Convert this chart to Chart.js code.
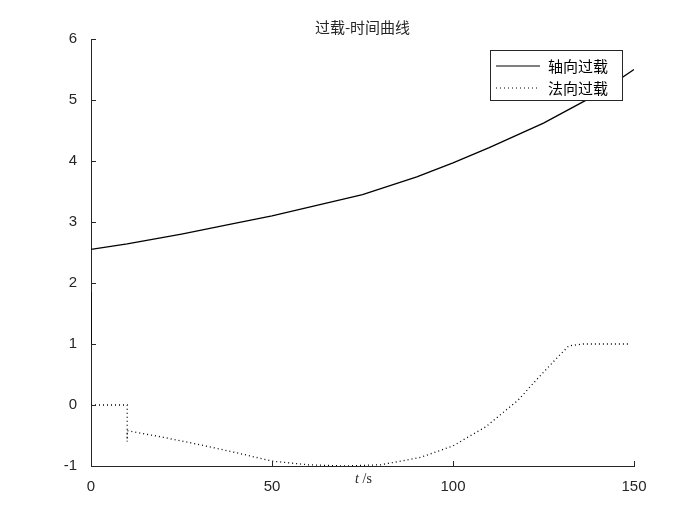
<!DOCTYPE html>
<html><head><meta charset="utf-8">
<script src="https://cdn.jsdelivr.net/npm/chart.js@4"></script>
<style>body{margin:0;background:#fff}#c{display:block}</style>
</head><body>
<canvas id="c" width="700" height="525"></canvas>
<script>
// axial overload: vertical start segment, then the main curve
var axialT = [0, 0, null, 0, 10, 25, 40, 50, 60, 75, 90, 100, 110, 125, 140, 150];
var axialN = [1, 1.85, null, 2.55, 2.64, 2.8, 2.98, 3.1, 3.24, 3.45, 3.74, 3.97, 4.22, 4.62, 5.1, 5.5];
var normalT = [0, 10, 10, 10, 20, 30, 40, 50, 60, 70, 80, 91, 100, 109, 118, 123, 129, 132, 136, 149];
var normalN = [0, 0, -0.6, -0.42, -0.53, -0.65, -0.78, -0.92, -0.98, -1.0, -0.98, -0.86, -0.67, -0.36, 0.08, 0.41, 0.79, 0.97, 1.0, 1.0];
var xTicks = [0, 50, 100, 150];
var yTicks = [-1, 0, 1, 2, 3, 4, 5, 6];
var seriesNames = ['轴向过载', '法向过载'];

function pts(t, n) {
  return t.map(function (v, i) { return v === null ? {x: null, y: null} : {x: v, y: n[i]}; });
}

var font = '"Liberation Sans", Arial, sans-serif';
var cjk = '"Noto Sans CJK SC", sans-serif';

var extras = {
  id: 'extras',
  afterDraw: function (chart) {
    var c = chart.ctx, a = chart.chartArea, xs = chart.scales.x, ys = chart.scales.y;
    c.save();
    c.strokeStyle = '#262626'; c.lineWidth = 1;
    xTicks.forEach(function (v) { var p = Math.round(xs.getPixelForValue(v)) + 0.5; c.beginPath(); c.moveTo(p, a.bottom); c.lineTo(p, a.bottom - 5); c.stroke(); });
    yTicks.forEach(function (v) { var p = Math.round(ys.getPixelForValue(v)) + 0.5; c.beginPath(); c.moveTo(a.left, p); c.lineTo(a.left + 5, p); c.stroke(); });
    c.fillStyle = '#262626';
    c.textAlign = 'center'; c.textBaseline = 'middle';
    c.font = '15px ' + cjk;
    c.fillText('过载-时间曲线', (a.left + a.right) / 2, 27);
    c.font = 'italic 14px "Liberation Serif", serif';
    c.textAlign = 'right';
    c.fillText('t', 359, 479);
    c.font = '14px "Liberation Serif", serif';
    c.textAlign = 'left';
    c.fillText(' /s', 359, 479);
    // legend
    var lx = 490.5, ly = 50.5, lw = 132, lh = 50;
    c.fillStyle = '#fff'; c.fillRect(lx, ly, lw, lh);
    c.strokeStyle = '#262626'; c.strokeRect(lx, ly, lw, lh);
    c.strokeStyle = '#000';
    c.beginPath(); c.moveTo(496, 66); c.lineTo(540, 66); c.stroke();
    c.setLineDash([1, 3]);
    c.beginPath(); c.moveTo(496, 88); c.lineTo(540, 88); c.stroke();
    c.setLineDash([]);
    c.fillStyle = '#000'; c.font = '15px ' + cjk; c.textAlign = 'left';
    c.fillText(seriesNames[0], 548, 66);
    c.fillText(seriesNames[1], 548, 88);
    c.restore();
  }
};

new Chart(document.getElementById('c').getContext('2d'), {
  type: 'line',
  data: {
    datasets: [
      {label: seriesNames[0], data: pts(axialT, axialN), borderColor: '#000', borderWidth: 1.3, pointRadius: 0, spanGaps: false, tension: 0},
      {label: seriesNames[1], data: pts(normalT, normalN), borderColor: '#000', borderWidth: 1.3, borderDash: [1, 3], pointRadius: 0, tension: 0}
    ]
  },
  options: {
    responsive: false, animation: false,
    layout: {padding: {left: 0, right: 66, top: 39, bottom: 0}},
    plugins: {legend: {display: false}, title: {display: false}, tooltip: {enabled: false}},
    scales: {
      x: {type: 'linear', min: 0, max: 150, afterFit: function (s) { s.height = 59; },
        afterBuildTicks: function (s) { s.ticks = xTicks.map(function (v) { return {value: v}; }); },
        grid: {display: false}, border: {color: '#262626'},
        ticks: {color: '#262626', font: {size: 15, family: font}, padding: 4}},
      y: {min: -1, max: 6, afterFit: function (s) { s.width = 91; },
        afterBuildTicks: function (s) { s.ticks = yTicks.map(function (v) { return {value: v}; }); },
        grid: {display: false}, border: {color: '#262626'},
        ticks: {color: '#262626', font: {size: 15, family: font}, padding: 6}}
    }
  },
  plugins: [extras]
});
</script>
</body></html>
